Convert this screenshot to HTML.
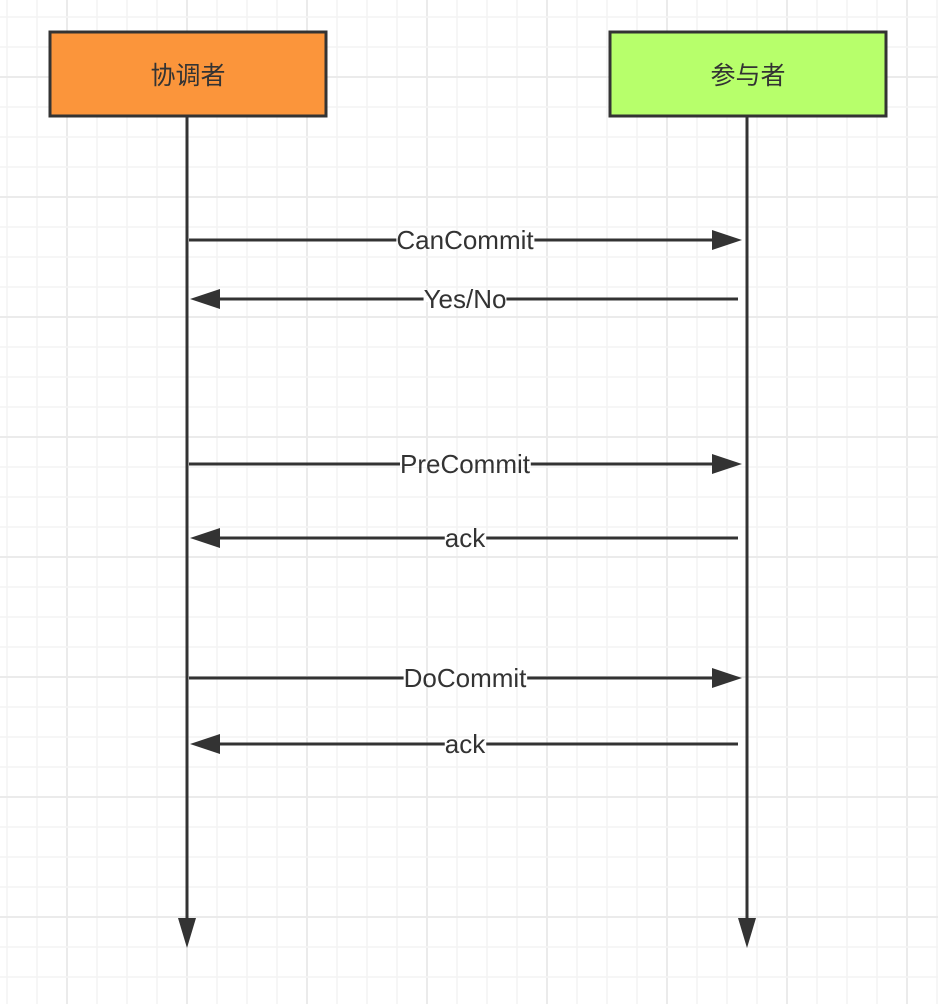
<!DOCTYPE html>
<html><head><meta charset="utf-8"><style>
html,body{margin:0;padding:0;background:#fff}
svg{display:block}
text{font-family:"Liberation Sans","Noto Sans CJK SC",sans-serif;fill:#333}
</style></head><body>
<svg id="c" width="938" height="1004">
<g id="grid"></g>
<g>
<rect x="50" y="32" width="276" height="84" fill="#fb953b" stroke="#333" stroke-width="3"/>
<text x="188" y="84" font-size="25" text-anchor="middle">协调者</text>
</g>
<g>
<rect x="610" y="32" width="276" height="84" fill="#b7ff6b" stroke="#333" stroke-width="3"/>
<text x="748" y="84" font-size="25" text-anchor="middle">参与者</text>
</g>
<g>
<line x1="187" y1="117" x2="187" y2="925" stroke="#333" stroke-width="3"/>
<polygon points="178,918 196,918 187,948" fill="#333"/>
</g>
<g>
<line x1="747" y1="117" x2="747" y2="925" stroke="#333" stroke-width="3"/>
<polygon points="738,918 756,918 747,948" fill="#333"/>
</g>
<g id="msgs"></g>
</svg>
<script>
const labels=["CanCommit","Yes/No","PreCommit","ack","DoCommit","ack"];
const ys=[240,299,464,538,678,744];
const dirs=[1,-1,1,-1,1,-1];
const ns="http://www.w3.org/2000/svg";
const g=document.getElementById('grid');
for(let x=7;x<938;x+=30){const l=document.createElementNS(ns,'line');
const maj=(x-67)%120===0;
l.setAttribute('x1',x);l.setAttribute('x2',x);l.setAttribute('y1',0);l.setAttribute('y2',1004);
l.setAttribute('stroke',maj?'#ebebeb':'#f4f4f4');l.setAttribute('stroke-width',maj?2:1.5);


g.appendChild(l);}
for(let y=17;y<1004;y+=30){const l=document.createElementNS(ns,'line');
const maj=(y-77)%120===0;
l.setAttribute('y1',y);l.setAttribute('y2',y);l.setAttribute('x1',0);l.setAttribute('x2',938);
l.setAttribute('stroke',maj?'#ebebeb':'#f4f4f4');l.setAttribute('stroke-width',maj?2:1.5);


g.appendChild(l);}
const m=document.getElementById('msgs');
labels.forEach((t,i)=>{
 const y=ys[i],d=dirs[i];
 const grp=document.createElementNS(ns,'g');
 
 
 const x1=d>0?189:738, x2=d>0?742:190;
 const ln=document.createElementNS(ns,'line');
 ln.setAttribute('x1',x1);ln.setAttribute('x2',x2-d*28);ln.setAttribute('y1',y);ln.setAttribute('y2',y);
 ln.setAttribute('stroke','#333');ln.setAttribute('stroke-width',3);grp.appendChild(ln);
 const p=document.createElementNS(ns,'polygon');
 p.setAttribute('points',`${x2},${y} ${x2-d*30},${y-10} ${x2-d*30},${y+10}`);
 p.setAttribute('fill','#333');grp.appendChild(p);
 const bg=document.createElementNS(ns,'rect');
 grp.appendChild(bg);
 const tx=document.createElementNS(ns,'text');
 tx.setAttribute('x',465);tx.setAttribute('y',y+9);tx.setAttribute('font-size',26);
 tx.setAttribute('text-anchor','middle');tx.textContent=t;grp.appendChild(tx);
 m.appendChild(grp);
 const b=tx.getBBox();
 bg.setAttribute('x',b.x);bg.setAttribute('y',y-3);bg.setAttribute('width',b.width);bg.setAttribute('height',6);
 bg.setAttribute('fill','#fff');
});
</script>
</body></html>
